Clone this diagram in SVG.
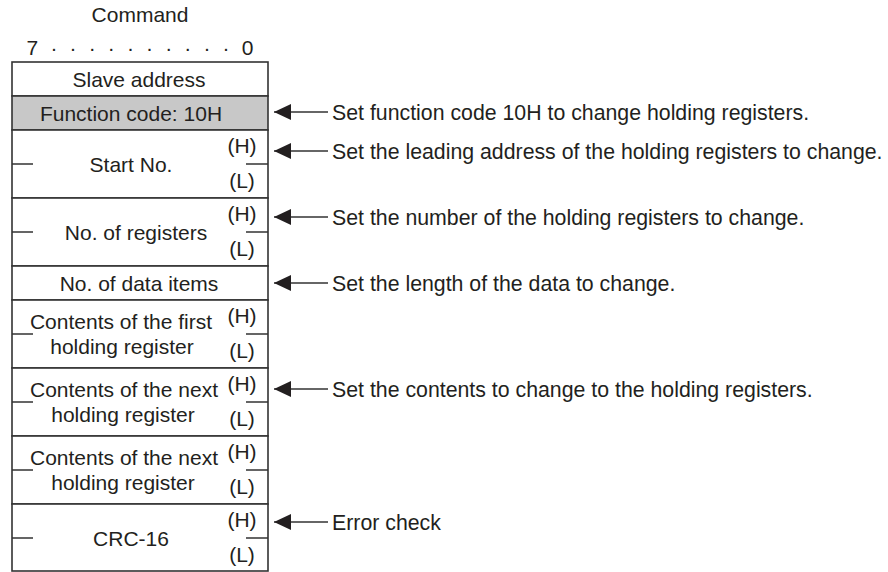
<svg xmlns="http://www.w3.org/2000/svg" width="888" height="572" viewBox="0 0 888 572">
<defs>
<style>
text{font-family:"Liberation Sans",Arial,sans-serif;font-size:21px;fill:#231f20}
.c{text-anchor:middle}
.a{font-size:21.3px}
.box{fill:#fff;stroke:#333;stroke-width:1.6}
.gray{fill:#c8c8c8}
.tick{stroke:#333;stroke-width:1.6;fill:none}
.conn{stroke:#333;stroke-width:1.5;fill:none}
</style>
<marker id="ah" markerWidth="17" markerHeight="16" refX="17" refY="8" orient="auto" markerUnits="userSpaceOnUse">
<path d="M0,0 L17,8 L0,16 Z" fill="#231f20"/>
</marker>
</defs>
<rect width="888" height="572" fill="#fff"/>
<g id="header">
<text class="c" x="140" y="22">Command</text>
<text class="c" x="140" y="55" style="word-spacing:6.3px">7 · · · · · · · · · · 0</text>
</g>
<g id="slave-address">
<rect class="box" x="12" y="62" width="256" height="34"/>
<text class="c" x="139" y="87">Slave address</text>
</g>
<g id="function-code">
<rect class="box gray" x="12" y="96" width="256" height="34"/>
<text class="c" x="131" y="121">Function code: 10H</text>
</g>
<g id="start-no">
<rect class="box" x="12" y="130" width="256" height="68"/>
<path class="tick" d="M12,164 H33 M246,164 H268"/>
<text class="c" x="131" y="172">Start No.</text>
<text class="c" x="242" y="153">(H)</text>
<text class="c" x="242" y="188">(L)</text>
</g>
<g id="no-of-registers">
<rect class="box" x="12" y="198" width="256" height="68"/>
<path class="tick" d="M12,232 H33 M246,232 H268"/>
<text class="c" x="136" y="240">No. of registers</text>
<text class="c" x="242" y="221">(H)</text>
<text class="c" x="242" y="256">(L)</text>
</g>
<g id="no-of-data-items">
<rect class="box" x="12" y="266" width="256" height="34"/>
<text class="c" x="139" y="291">No. of data items</text>
</g>
<g id="contents-first">
<rect class="box" x="12" y="300" width="256" height="68"/>
<path class="tick" d="M12,334 H33 M246,334 H268"/>
<text class="c" x="121" y="329">Contents of the first</text>
<text class="c" x="122" y="354">holding register</text>
<text class="c" x="242" y="323">(H)</text>
<text class="c" x="242" y="358">(L)</text>
</g>
<g id="contents-next-1">
<rect class="box" x="12" y="368" width="256" height="68"/>
<path class="tick" d="M12,402 H33 M246,402 H268"/>
<text class="c" x="124" y="397">Contents of the next</text>
<text class="c" x="123" y="422">holding register</text>
<text class="c" x="242" y="391">(H)</text>
<text class="c" x="242" y="426">(L)</text>
</g>
<g id="contents-next-2">
<rect class="box" x="12" y="436" width="256" height="68"/>
<path class="tick" d="M12,470 H33 M246,470 H268"/>
<text class="c" x="124" y="465">Contents of the next</text>
<text class="c" x="123" y="490">holding register</text>
<text class="c" x="242" y="459">(H)</text>
<text class="c" x="242" y="494">(L)</text>
</g>
<g id="crc-16">
<rect class="box" x="12" y="504" width="256" height="67"/>
<path class="tick" d="M12,538 H33 M246,538 H268"/>
<text class="c" x="131" y="546">CRC-16</text>
<text class="c" x="242" y="527">(H)</text>
<text class="c" x="242" y="562">(L)</text>
</g>
<g id="connectors">
<path class="conn" d="M328,112 H274" marker-end="url(#ah)"/>
<path class="conn" d="M328,151 H274" marker-end="url(#ah)"/>
<path class="conn" d="M328,217 H274" marker-end="url(#ah)"/>
<path class="conn" d="M328,283 H274" marker-end="url(#ah)"/>
<path class="conn" d="M328,389 H274" marker-end="url(#ah)"/>
<path class="conn" d="M328,522 H274" marker-end="url(#ah)"/>
</g>
<g id="annotations">
<text class="a" x="332" y="120">Set function code 10H to change holding registers.</text>
<text class="a" x="332" y="159">Set the leading address of the holding registers to change.</text>
<text class="a" x="332" y="225">Set the number of the holding registers to change.</text>
<text class="a" x="332" y="291">Set the length of the data to change.</text>
<text class="a" x="332" y="397">Set the contents to change to the holding registers.</text>
<text class="a" x="332" y="530">Error check</text>
</g>
</svg>
